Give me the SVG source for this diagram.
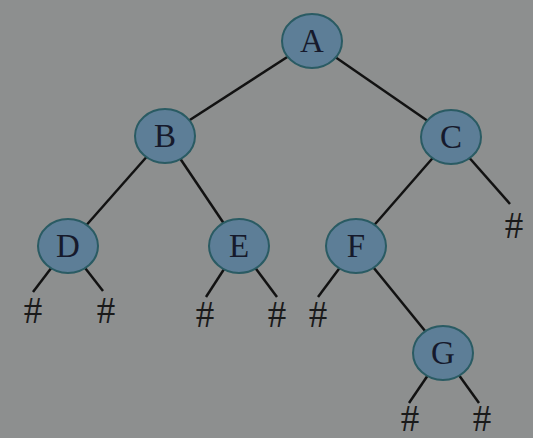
<svg xmlns="http://www.w3.org/2000/svg" width="533" height="438" viewBox="0 0 533 438">
<style>
.n ellipse{fill:#5d7e97;stroke:#2a5b63;stroke-width:2}
.n text{font-family:"Liberation Serif",serif;font-size:33px;fill:#161a2c;text-anchor:middle}
.e line{stroke:#121212;stroke-width:2.5}
.h{font-family:"Liberation Serif",serif;font-size:37px;fill:#1a1a1a;text-anchor:middle}
</style>
<rect width="533" height="438" fill="#8d8f8f"/>
<g id="edges" class="e">
<line x1="312" y1="41" x2="165" y2="136"/>
<line x1="312" y1="41" x2="451" y2="137"/>
<line x1="165" y1="136" x2="68" y2="246"/>
<line x1="165" y1="136" x2="239" y2="246"/>
<line x1="451" y1="137" x2="356" y2="246"/>
<line x1="451" y1="137" x2="510" y2="204"/>
<line x1="68" y1="246" x2="33" y2="292"/>
<line x1="68" y1="246" x2="103" y2="291"/>
<line x1="239" y1="246" x2="206" y2="297"/>
<line x1="239" y1="246" x2="277" y2="297"/>
<line x1="356" y1="246" x2="318" y2="297"/>
<line x1="356" y1="246" x2="443" y2="353"/>
<line x1="443" y1="353" x2="409" y2="403"/>
<line x1="443" y1="353" x2="479" y2="403"/>
</g>
<g id="A" class="n"><ellipse cx="312" cy="41" rx="30" ry="27"/><text x="312" y="52">A</text></g>
<g id="B" class="n"><ellipse cx="165" cy="136" rx="30" ry="27"/><text x="165" y="147">B</text></g>
<g id="C" class="n"><ellipse cx="451" cy="137" rx="30" ry="27"/><text x="451" y="148">C</text></g>
<g id="D" class="n"><ellipse cx="68" cy="246" rx="30" ry="27"/><text x="68" y="257">D</text></g>
<g id="E" class="n"><ellipse cx="239" cy="246" rx="30" ry="27"/><text x="239" y="257">E</text></g>
<g id="F" class="n"><ellipse cx="356" cy="246" rx="30" ry="27"/><text x="356" y="257">F</text></g>
<g id="G" class="n"><ellipse cx="443" cy="353" rx="30" ry="27"/><text x="443" y="364">G</text></g>
<g id="nulls">
<text class="h" x="33" y="323">#</text>
<text class="h" x="106" y="323">#</text>
<text class="h" x="205" y="327">#</text>
<text class="h" x="277" y="327">#</text>
<text class="h" x="318" y="327">#</text>
<text class="h" x="514" y="238">#</text>
<text class="h" x="410" y="431">#</text>
<text class="h" x="482" y="431">#</text>
</g>
</svg>
